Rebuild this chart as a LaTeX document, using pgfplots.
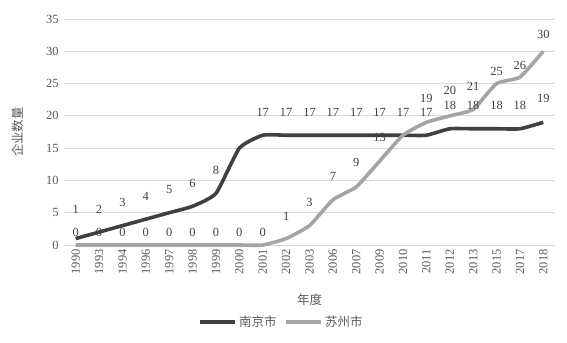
\documentclass[border=0pt]{standalone}
\usepackage{fontspec}
\setmainfont{Liberation Serif}
\newfontfamily\cjk{Noto Sans CJK SC}
\usepackage{pgfplots}
\usepackage{pgfplotstable}
\pgfplotsset{compat=1.18}
\definecolor{darkline}{HTML}{404040}
\definecolor{lightline}{HTML}{A5A5A5}
\definecolor{gridc}{HTML}{D9D9D9}
\definecolor{txt}{HTML}{595959}

\pgfplotstableread{
x y lab dy
0 1 1 23
1 2 2 17
2 3 3 17
3 4 4 17
4 5 5 17
5 6 6 17
6 8 8 17
7 15 {} 17
8 17 17 17
9 17 17 17
10 17 17 17
11 17 17 17
12 17 17 17
13 17 17 17
14 17 17 17
15 17 17 17
16 18 18 17
17 18 18 17
18 18 18 17
19 18 18 17
20 19 19 18
}\nanjing

\pgfplotstableread{
x y lab dy
0 0 0 7
1 0 0 7
2 0 0 7
3 0 0 7
4 0 0 7
5 0 0 7
6 0 0 7
7 0 0 7
8 0 0 7
9 1 1 16
10 3 3 17
11 7 7 18
12 9 9 18
13 13 13 18
14 17 {} 17
15 19 19 18
16 20 20 19
17 21 21 17
18 25 25 6
19 26 26 6
20 30 30 11
}\suzhou

\begin{document}
\begin{tikzpicture}
\path[use as bounding box] (-64bp,-98bp) rectangle (503bp,245bp);
\begin{axis}[
  at={(0,0)}, anchor=south west,
  scale only axis,
  width=491bp, height=226bp,
  xmin=-0.5, xmax=20.5,
  ymin=0, ymax=35,
  ytick={0,5,...,35},
  xtick={0,...,20},
  xticklabels={1990,1993,1994,1996,1997,1998,1999,2000,2001,2002,2003,2006,2007,2009,2010,2011,2012,2013,2015,2017,2018},
  x tick label style={rotate=90, anchor=east, font=\fontsize{12.5}{14}\selectfont, text=txt, xshift=-1bp},
  y tick label style={font=\fontsize{12.5}{14}\selectfont, text=txt, xshift=-2bp},
  /pgf/number format/assume math mode=true,
  axis line style={draw=none},
  major tick length=0pt,
  ymajorgrids,
  grid style={gridc, line width=0.8bp},
  xlabel={\cjk 年度},
  xlabel style={font=\fontsize{12.5}{14}\selectfont, text=txt, at={(rel axis cs:0.5,0)}, anchor=center, yshift=-55bp},
  ylabel={\cjk 企业数量},
  every axis y label/.style={font=\fontsize{12.5}{14}\selectfont, text=txt, at={([xshift=-46bp]rel axis cs:0,0.5)}, anchor=center, rotate=90},
  legend columns=2,
  legend style={draw=none, fill=none, at={(rel axis cs:0.5,0)}, anchor=center, yshift=-77bp, xshift=-28bp, font=\cjk\fontsize{12.5}{14}\selectfont, text=txt, /tikz/every even column/.append style={column sep=6bp}},
  legend image code/.code={\draw[#1] (0bp,0bp) -- (35bp,0bp);},
  point meta=explicit symbolic,
  nodes near coords,
  visualization depends on={\thisrow{dy}\as\myDy},
  every node near coord/.append style={font=\fontsize{12.5}{14}\selectfont, text=darkline, anchor=south, inner sep=0pt, yshift=\myDy bp},
  clip=false,
]
\addplot[darkline, line width=3.6bp, smooth, tension=0.3, mark=none] table[x=x, y=y, meta=lab] {\nanjing};
\addlegendentry{南京市}
\addplot[lightline, line width=3.6bp, smooth, tension=0.3, mark=none] table[x=x, y=y, meta=lab] {\suzhou};
\addlegendentry{苏州市}
\end{axis}
\end{tikzpicture}
\end{document}
